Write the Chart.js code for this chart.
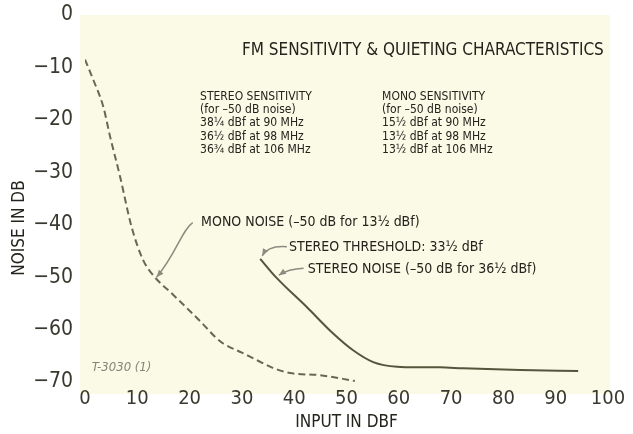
<!DOCTYPE html>
<html>
<head>
<meta charset="utf-8">
<script src="https://cdn.jsdelivr.net/npm/chart.js@4.4.1/dist/chart.umd.min.js"></script>
<style>
  html, body { margin: 0; padding: 0; background: #fff; }
  #chartContainer { width: 633px; height: 434px; }
</style>
</head>
<body>
<div id="chartContainer"><canvas id="fm-chart" width="633" height="434"></canvas></div>
<script>
// values
var monoInput = [0, 1.6, 3.5, 4.8, 6.7, 8.9, 11.1, 13, 16.8, 20.1, 22.6, 25, 26.5, 30, 33, 35.9, 39.2, 44.9, 51.6];
var monoNoise = [-8.5, -12.4, -17.5, -23.2, -30.8, -40.4, -46.7, -49.6, -53.3, -56.5, -59, -61.5, -62.7, -64.4, -65.9, -67.3, -68.3, -68.7, -69.8];

var stereoInput = [33.5, 36.5, 42.4, 47.4, 51.2, 55.1, 59.7, 63.5, 67.9, 72.3, 83.2, 94.3];
var stereoNoise = [-46.5, -50, -55.7, -60.7, -63.9, -66.2, -67.1, -67.2, -67.2, -67.4, -67.7, -67.9];

var xTicks = [0, 10, 20, 30, 40, 50, 60, 70, 80, 90, 100];
var yTicks = [0, -10, -20, -30, -40, -50, -60, -70];

var chartTitle = 'FM SENSITIVITY & QUIETING CHARACTERISTICS';
var stereoLines = ['STEREO SENSITIVITY', '(for \u201350 dB noise)', '38\u00bc dBf at 90 MHz', '36\u00bd dBf at 98 MHz', '36\u00be dBf at 106 MHz'];
var monoLines = ['MONO SENSITIVITY', '(for \u201350 dB noise)', '15\u00bd dBf at 90 MHz', '13\u00bd dBf at 98 MHz', '13\u00bd dBf at 106 MHz'];
var monoNote = 'MONO NOISE (\u201350 dB for 13\u00bd dBf)';
var thresholdNote = 'STEREO THRESHOLD: 33\u00bd dBf';
var stereoNote = 'STEREO NOISE (\u201350 dB for 36\u00bd dBf)';
var figureId = 'T-3030 (1)';

var fam = "'DejaVu Sans Condensed', 'Liberation Sans Narrow', sans-serif";
var ink = '#24231c';

function toPoints(xs, ys) {
    return xs.map(function (x, i) { return { x: x, y: ys[i] }; });
}

// cream paper behind the plot
var paperPlugin = {
    id: 'paper',
    beforeDraw: function (chart) {
        var c = chart.ctx, a = chart.chartArea;
        c.save();
        c.fillStyle = '#ffffff';
        c.fillRect(0, 0, chart.width, chart.height);
        c.fillStyle = '#fbfae7';
        c.fillRect(a.left - 5, a.top, a.right - a.left + 7, a.bottom - a.top + 12);
        c.restore();
    }
};

function arrow(c, x0, y0, c1x, c1y, c2x, c2y, x1, y1) {
    c.beginPath();
    c.moveTo(x0, y0);
    c.bezierCurveTo(c1x, c1y, c2x, c2y, x1, y1);
    c.stroke();
    var ang = Math.atan2(y1 - c2y, x1 - c2x);
    var len = 7, w = 3;
    c.beginPath();
    c.moveTo(x1, y1);
    c.lineTo(x1 - len * Math.cos(ang) + w * Math.sin(ang), y1 - len * Math.sin(ang) - w * Math.cos(ang));
    c.lineTo(x1 - len * Math.cos(ang) - w * Math.sin(ang), y1 - len * Math.sin(ang) + w * Math.cos(ang));
    c.closePath();
    c.fill();
}

// title, sensitivity table, callouts, axis titles
var notesPlugin = {
    id: 'notes',
    afterDraw: function (chart) {
        var c = chart.ctx, xs = chart.scales.x, ys = chart.scales.y;
        function X(v) { return xs.getPixelForValue(v); }
        function Y(v) { return ys.getPixelForValue(v); }
        c.save();
        c.fillStyle = ink;
        c.textBaseline = 'middle';
        c.textAlign = 'left';

        c.font = '17px ' + fam;
        c.fillText(chartTitle, X(30), Y(-6.7));

        c.font = '12px ' + fam;
        stereoLines.forEach(function (t, i) { c.fillText(t, X(22), Y(-15.6) + i * 13.2); });
        monoLines.forEach(function (t, i) { c.fillText(t, X(56.8), Y(-15.6) + i * 13.2); });

        c.font = '14px ' + fam;
        c.fillText(monoNote, X(22.2), Y(-39.5));
        c.fillText(thresholdNote, X(39), Y(-44.4));
        c.fillText(stereoNote, X(42.6), Y(-48.6));

        // leader arrows
        c.strokeStyle = '#8c8b80';
        c.fillStyle = '#8c8b80';
        c.lineWidth = 1.5;
        var mx = X(13.5) + 1, my = Y(-50);
        arrow(c, X(20.6), Y(-39.6), X(18.5), Y(-41), X(17.5), Y(-45.5), mx, my);
        var tx = X(33.5) + 2, ty = Y(-46.5) - 3;
        arrow(c, X(38.6), Y(-44.2), X(36), Y(-44), X(34.5), Y(-44.8), tx, ty);
        var sx = X(36.5) + 3, sy = Y(-50) - 2;
        arrow(c, X(41.8), Y(-48.3), X(39.5), Y(-48.4), X(38), Y(-49), sx, sy);

        c.fillStyle = '#85847a';
        c.font = 'italic 13px ' + fam;
        c.fillText(figureId, X(1.3), Y(-67.3));

        c.fillStyle = ink;
        c.textAlign = 'center';
        c.font = '17px ' + fam;
        c.fillText('INPUT IN DBF', (xs.left + xs.right) / 2, 423);
        c.translate(20, 228);
        c.rotate(-Math.PI / 2);
        c.fillText('NOISE IN DB', 0, 0);
        c.restore();
    }
};

var ctx = document.getElementById('fm-chart').getContext('2d');
var chart = new Chart(ctx, {
    type: 'scatter',
    data: {
        datasets: [{
            label: 'Mono noise',
            data: toPoints(monoInput, monoNoise),
            showLine: true,
            borderColor: '#6b6554',
            borderWidth: 2,
            borderDash: [7, 4],
            pointRadius: 0,
            cubicInterpolationMode: 'monotone'
        }, {
            label: 'Stereo noise',
            data: toPoints(stereoInput, stereoNoise),
            showLine: true,
            borderColor: '#55553e',
            borderWidth: 2,
            pointRadius: 0,
            cubicInterpolationMode: 'monotone'
        }]
    },
    options: {
        responsive: false,
        animation: false,
        layout: { padding: { top: 15, right: 25, left: 0, bottom: 0 } },
        plugins: {
            legend: { display: false },
            tooltip: { enabled: false }
        },
        scales: {
            x: {
                type: 'linear',
                min: 0,
                max: 100,
                afterBuildTicks: function (scale) { scale.ticks = xTicks.map(function (v) { return { value: v }; }); },
                afterFit: function (scale) { scale.height = 52; scale.paddingLeft = 0; scale.paddingRight = 0; },
                grid: { display: false, drawTicks: false },
                border: { display: false },
                ticks: {
                    autoSkip: false,
                    maxRotation: 0,
                    padding: 5,
                    color: '#3a3930',
                    font: { family: fam, size: 20 }
                }
            },
            y: {
                type: 'linear',
                min: -70,
                max: 0,
                afterBuildTicks: function (scale) { scale.ticks = yTicks.map(function (v) { return { value: v }; }); },
                afterFit: function (scale) { scale.width = 85; scale.paddingTop = 0; scale.paddingBottom = 0; },
                grid: { display: false, drawTicks: false },
                border: { display: false },
                ticks: {
                    padding: 12,
                    color: '#3a3930',
                    font: { family: fam, size: 21 },
                    callback: function (v) { return v < 0 ? '\u2212' + Math.abs(v) : String(v); }
                }
            }
        }
    },
    plugins: [paperPlugin, notesPlugin]
});
</script>
</body>
</html>
